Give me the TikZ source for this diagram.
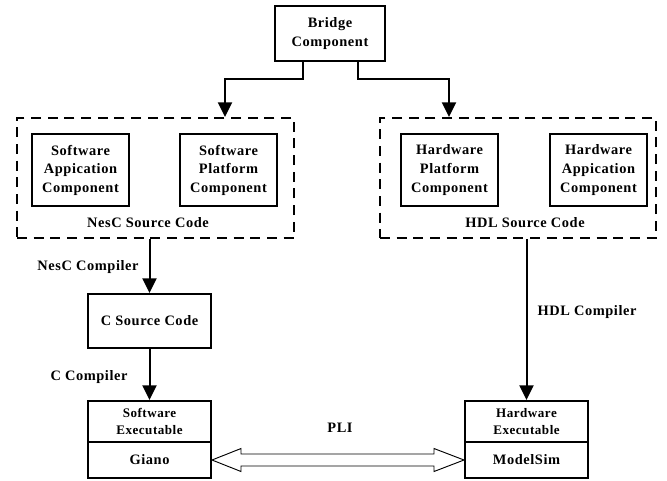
\documentclass[tikz,border=0pt]{standalone}
\usepackage{fontspec}
\setmainfont{Liberation Serif}[LetterSpace=4]
\usetikzlibrary{arrows.meta,calc}
\newdimen\pxu \pxu=0.75pt
\tikzset{
  box/.style={draw, line width=1.5pt, inner sep=0pt, align=center,
    font=\fontsize{10.8}{13.9}\selectfont\bfseries},
  comp/.style={box, minimum width=97\pxu, minimum height=72\pxu},
  group/.style={draw, line width=1.5pt, dash pattern=on 7.5pt off 5pt,
    inner sep=0pt},
  lbl/.style={font=\fontsize{10.8}{13.9}\selectfont\bfseries, inner sep=0pt},
  small/.style={font=\fontsize{9.8}{12.8}\selectfont\bfseries},
  arr/.style={line width=1.5pt, -{Triangle[length=11pt,width=10.5pt]}},
  pli/.style={line width=0.7pt, fill=white},
}
\begin{document}
\begin{tikzpicture}[x=1\pxu, y=-1\pxu]
\useasboundingbox (0,0) rectangle (667,480);

% top component
\node[box, minimum width=110\pxu, minimum height=55\pxu] (bridge) at (330,33.5) {Bridge\\Component};

% source-code groups
\node[group, minimum width=277\pxu, minimum height=120\pxu] (nesc) at (155.5,178) {};
\node[group, minimum width=276\pxu, minimum height=120\pxu] (hdl) at (518,178) {};

\node[comp] (swapp)  at (80.5,170)  {Software\\Appication\\Component};
\node[comp] (swplat) at (228.5,170) {Software\\Platform\\Component};
\node[comp] (hwplat) at (449.5,170) {Hardware\\Platform\\Component};
\node[comp] (hwapp)  at (598.5,170) {Hardware\\Appication\\Component};

\node[lbl] (nesclbl) at (148,223) {NesC Source Code};
\node[lbl] (hdllbl)  at (525,223) {HDL Source Code};

% compiled stages
\node[box, minimum width=123\pxu, minimum height=54\pxu] (csrc) at (149.5,321) {C Source Code};

\node[box, small, minimum width=123\pxu, minimum height=41\pxu] (sexe) at (149.5,421.5) {Software\\Executable};
\node[box, minimum width=123\pxu, minimum height=36\pxu] (giano) at (149.5,460) {Giano};
\node[box, small, minimum width=123\pxu, minimum height=41\pxu] (hexe) at (526.5,421.5) {Hardware\\Executable};
\node[box, minimum width=123\pxu, minimum height=36\pxu] (msim) at (526.5,460) {ModelSim};

% connectors
\draw[arr] ([xshift=-27.5\pxu]bridge.south) -- ++(0,17) -| ([xshift=69.5\pxu]nesc.north);
\draw[arr] ([xshift=27.5\pxu]bridge.south) -- ++(0,17) -| ([xshift=-69\pxu]hdl.north);
\draw[arr] (csrc.north |- nesc.south) -- (csrc.north);
\draw[arr] (csrc.south) -- (sexe.north);
\draw[arr] (hexe.north |- hdl.south) -- (hexe.north);

\node[lbl] (ncomp) at (88,267) {NesC Compiler};
\node[lbl] (ccomp) at (89,377) {C Compiler};
\node[lbl] (hcomp) at (587,312) {HDL Compiler};

% PLI link: hollow double-headed arrow
\draw[pli] (giano.east) -- ++(29,-11.5) -- ++(0,5.5) -- ($(msim.west)+(-30,-6)$)
  -- ++(0,-5.5) -- (msim.west) -- ++(-30,11.5) -- ++(0,-5.5)
  -- ($(giano.east)+(29,6)$) -- ++(0,5.5) -- cycle;
\node[lbl] (plilbl) at (340,428) {PLI};
\end{tikzpicture}
\end{document}
